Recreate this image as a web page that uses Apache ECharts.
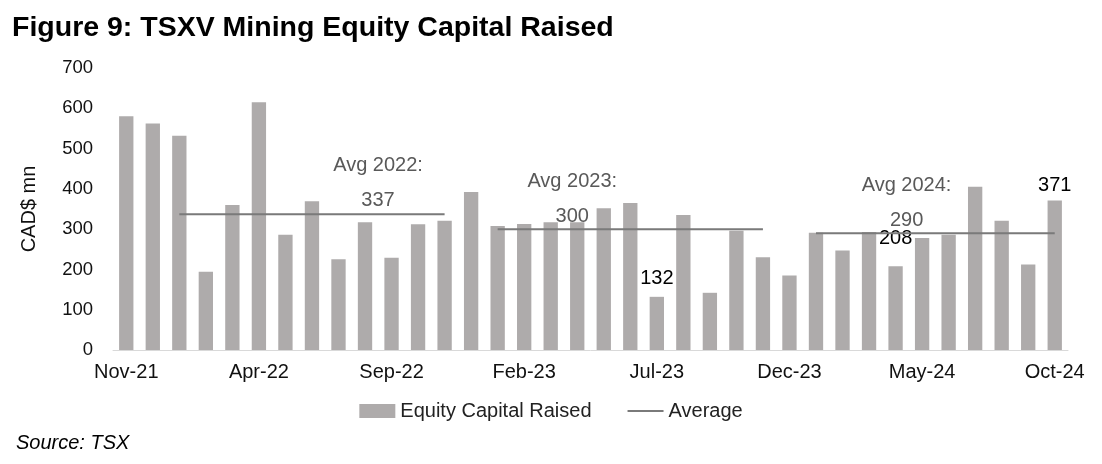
<!DOCTYPE html>
<html><head><meta charset="utf-8">
<script src="https://cdn.jsdelivr.net/npm/echarts@6/dist/echarts.min.js"></script>
<style>html,body{margin:0;padding:0;background:#fff}#c{width:1102px;height:464px}</style>
</head><body><div id="c"></div>
<script>
const categories = ["Nov-21","Dec-21","Jan-22","Feb-22","Mar-22","Apr-22","May-22","Jun-22","Jul-22","Aug-22","Sep-22","Oct-22","Nov-22","Dec-22",
"Jan-23","Feb-23","Mar-23","Apr-23","May-23","Jun-23","Jul-23","Aug-23","Sep-23","Oct-23","Nov-23","Dec-23",
"Jan-24","Feb-24","Mar-24","Apr-24","May-24","Jun-24","Jul-24","Aug-24","Sep-24","Oct-24"];
const equityRaised = [580,562,532,194,360,615,286,369,225,317,229,312,321,392,
308,313,317,317,352,365,132,335,142,296,230,185,
291,247,293,208,278,286,405,321,212,371];
const average = [null,null,337,337,337,337,337,337,337,337,337,337,337,null,
300,300,300,300,300,300,300,300,300,300,300,null,
290,290,290,290,290,290,290,290,290,290];
const barLabels = {20:{text:"132",dist:8},29:{text:"208",dist:18},35:{text:"371",dist:5}};
const avgLabels = {9:{text:"Avg 2022:\n337",dx:13,dy:8},17:{text:"Avg 2023:\n300",dx:-5,dy:9},29:{text:"Avg 2024:\n290",dx:11,dy:9}};

const FF = 'Liberation Sans, Arial, sans-serif';
const barData = equityRaised.map((v,i)=>{
  const l = barLabels[i];
  if(!l) return v;
  return {value:v,label:{show:true,position:'top',distance:l.dist,formatter:l.text,color:'#000',fontSize:20,fontFamily:FF}};
});
const lineData = average.map((v,i)=>{
  const l = avgLabels[i];
  if(!l) return v;
  return {value:v,label:{show:true,position:'top',distance:4,offset:[l.dx,l.dy],formatter:l.text,color:'#595959',fontSize:20,lineHeight:35,align:'center',fontFamily:FF}};
});

const chart = echarts.init(document.getElementById('c'));
chart.setOption({
  animation:false,
  textStyle:{fontFamily:FF},
  title:[{text:'Figure 9: TSXV Mining Equity Capital Raised',left:7,top:9,textStyle:{fontSize:28.5,fontWeight:'bold',color:'#000',fontFamily:FF}},
         {text:'Source: TSX',left:11,top:428,textStyle:{fontSize:20,fontStyle:'italic',fontWeight:'normal',color:'#000',fontFamily:FF}}],
  legend:{bottom:38,left:'center',itemGap:36,itemWidth:36,itemHeight:14,textStyle:{fontSize:20,color:'#222'},
    data:[{name:'Equity Capital Raised',icon:'rect'},{name:'Average',icon:'path://M0 0 L36 0 L36 2 L0 2 Z'}]},
  grid:{left:113,right:34,top:68,bottom:114},
  xAxis:{type:'category',data:categories,
    axisLine:{lineStyle:{color:'#d9d9d9',width:1}},axisTick:{show:false},
    axisLabel:{interval:4,color:'#111',fontSize:20,margin:12}},
  yAxis:{type:'value',min:0,max:700,interval:100,name:'CAD$ mn',nameLocation:'middle',nameGap:74,nameRotate:90,
    nameTextStyle:{fontSize:20,color:'#111'},
    splitLine:{show:false},axisLine:{show:false},axisTick:{show:false},
    axisLabel:{color:'#111',fontSize:18.5,margin:20}},
  series:[
    {name:'Equity Capital Raised',type:'bar',data:barData,barWidth:'54%',itemStyle:{color:'#aeabab'}},
    {name:'Average',type:'line',data:lineData,symbol:'circle',symbolSize:0,showSymbol:true,connectNulls:false,lineStyle:{color:'#7a7a7a',width:2},itemStyle:{color:'#7a7a7a'},z:3}
  ]
});
</script></body></html>
